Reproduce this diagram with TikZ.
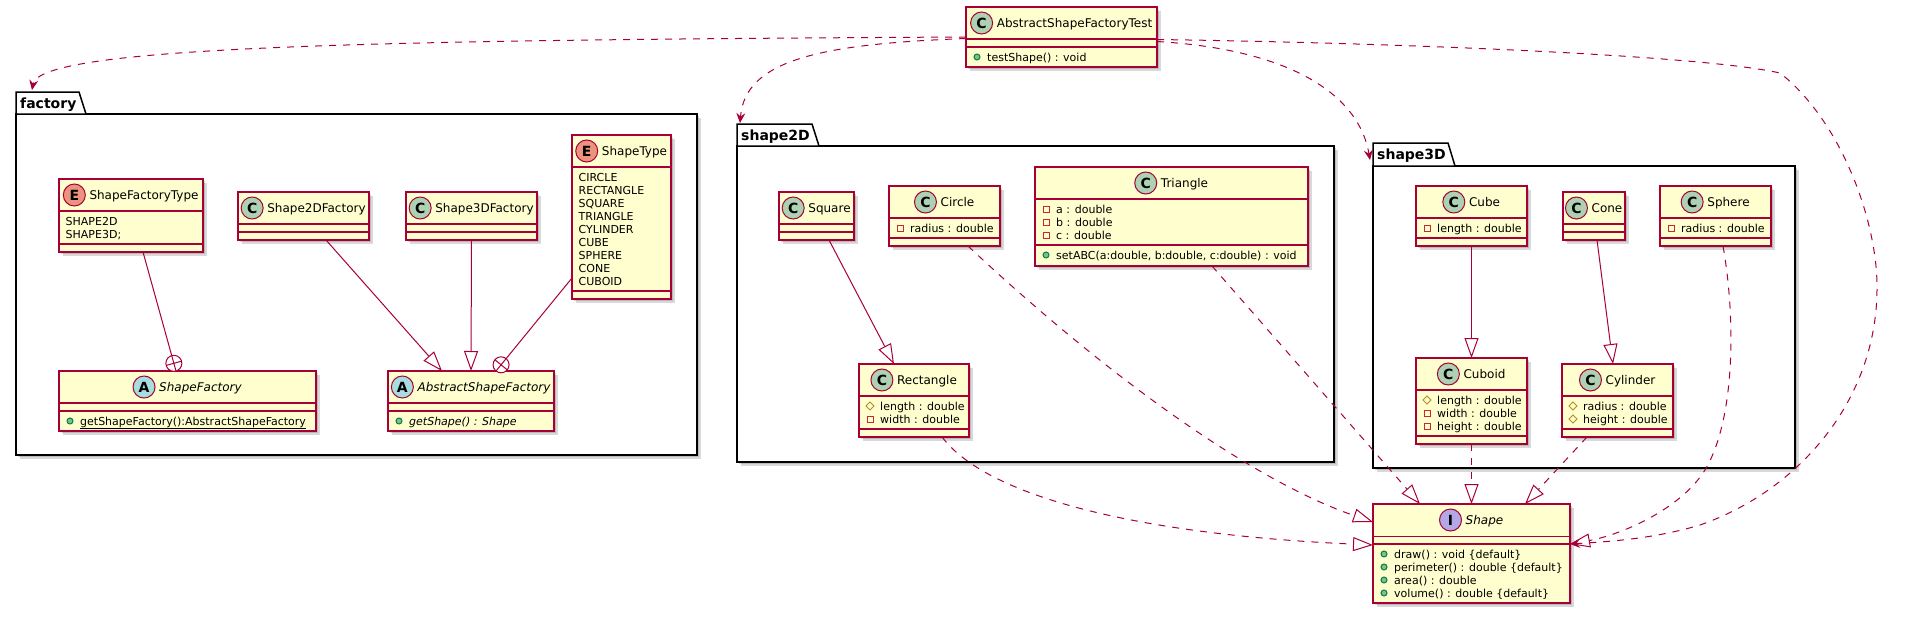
\documentclass[tikz,border=0pt]{standalone}
\usepackage{fontspec}
\setmainfont{DejaVu Sans}
\usetikzlibrary{arrows.meta,calc,shadows}
\definecolor{umlred}{HTML}{A80036}
\definecolor{umlfill}{HTML}{FEFECE}
\definecolor{ccirc}{HTML}{ADD1B2}
\definecolor{ecirc}{HTML}{EB937F}
\definecolor{acirc}{HTML}{A9DCDF}
\definecolor{icirc}{HTML}{B4A7E5}
\definecolor{privc}{HTML}{C82930}
\definecolor{pubf}{HTML}{84BE84}
\definecolor{pubd}{HTML}{038048}
\definecolor{protc}{HTML}{B38D22}
\tikzset{
  boxshadow/.style={drop shadow={shadow xshift=2pt,shadow yshift=-2pt,opacity=.15,fill=black},
                    drop shadow={shadow xshift=4pt,shadow yshift=-4pt,opacity=.15,fill=black}},
  clsbox/.style={rectangle, draw=umlred, fill=umlfill, line width=1.5pt, inner sep=0pt, outer sep=0pt, boxshadow},
  pkgbox/.style={rectangle, draw=black, fill=white, line width=1.5pt, inner sep=0pt, outer sep=0pt, boxshadow},
  pkgtab/.style={draw=black, fill=white, line width=1.5pt, line join=miter},
  pkglabel/.style={anchor=base west, inner sep=0pt, font=\fontsize{14}{16}\selectfont\bfseries},
  hname/.style={anchor=base, inner sep=0pt, font=\fontsize{12}{14}\selectfont},
  hcirc/.style={circle, draw=umlred, line width=1pt, minimum size=22pt, inner sep=0pt, font=\fontsize{14}{14}\selectfont\bfseries},
  mtext/.style={anchor=base west, inner sep=0pt, font=\fontsize{11}{13}\selectfont},
  sepline/.style={draw=umlred, line width=1.5pt},
  conn/.style={draw=umlred, line width=1pt},
  dep/.style={conn, dash pattern=on 7pt off 7pt, -{Stealth[length=10pt,width=9pt,inset=3.5pt]}},
  real/.style={conn, dash pattern=on 7pt off 7pt, -{Triangle[length=20pt,width=14pt,fill=white]}},
  gen/.style={conn, -{Triangle[length=20pt,width=14pt,fill=white]}},
  privicon/.style={draw=privc, line width=1pt},
  pubicon/.style={draw=pubd, fill=pubf, line width=1pt},
  proticon/.style={draw=protc, line width=1pt},
}
\newcommand\cls[5]{\node[clsbox, minimum width={#4-#2}, minimum height={#5-#3}] (#1) at ({(#2+#4)/2},{(#3+#5)/2}) {};}
\newcommand\hdr[4]{%
  \node[hname] (#1-t) at ($(#1.north)+(13,20.5)$) {#4};
  \node[hcirc, fill=#3] (#1-c) at ($(#1-t.base west)+(-15,-4.5)$) {#2};}
\newcommand\sepl[2]{\draw[sepline] ($(#1.north west)+(0,#2)$) -- ($(#1.north east)+(0,#2)$);}
\newcommand\mpriv[3]{\draw[privicon] ($(#1.north west)+(8,#2-3)$) rectangle ++(6,6);
  \node[mtext] (#1-m#2) at ($(#1.north west)+(21,#2+4)$) {#3};}
\newcommand\mpub[3]{\draw[pubicon] ($(#1.north west)+(11,#2)$) circle[radius=3pt];
  \node[mtext] (#1-m#2) at ($(#1.north west)+(21,#2+4)$) {#3};}
\newcommand\mprot[3]{\draw[proticon] ($(#1.north west)+(11,#2)$) ++(0,-4) -- ++(4,4) -- ++(-4,4) -- ++(-4,-4) -- cycle;
  \node[mtext] (#1-m#2) at ($(#1.north west)+(21,#2+4)$) {#3};}
\newcommand\menum[3]{\node[mtext] (#1-m#2) at ($(#1.north west)+(6.5,#2+4)$) {#3};}
\newcommand\nestplus[2]{%
  \coordinate (#2-c) at ($(#2)!8pt!(#1)$);
  \draw[conn, fill=white] (#2-c) circle[radius=8pt];
  \draw[conn] ($(#2-c)!8pt!(#2)$) -- ($(#2-c)!8pt!(#1)$);
  \draw[conn] ($(#2-c)!8pt!90:(#2)$) -- ($(#2-c)!8pt!-90:(#2)$);}
\begin{document}
\begin{tikzpicture}[x=1pt,y=-1pt]
\useasboundingbox (0,0) rectangle (1917,616);
% ---------- packages ----------
\node[pkgbox, minimum width=681, minimum height=341] (factory) at (356.5,284.5) {};
\draw[pkgtab] (16,114) -- (16,92) -- (79,92) -- (86,114) -- cycle;
\node[pkglabel] (factory-l) at (20,108) {factory};
\coordinate (factory-in) at ($(factory.north west)+(16,-24)$);

\node[pkgbox, minimum width=597, minimum height=316] (s2d) at (1035.5,304) {};
\draw[pkgtab] (737,146) -- (737,124) -- (812,124) -- (819,146) -- cycle;
\node[pkglabel] (s2d-l) at (741,140) {shape2D};
\coordinate (s2d-in) at ($(s2d.north west)+(3,-23)$);

\node[pkgbox, minimum width=422, minimum height=302] (s3d) at (1584,317) {};
\draw[pkgtab] (1373,166) -- (1373,143) -- (1448,143) -- (1455,166) -- cycle;
\node[pkglabel] (s3d-l) at (1377,159) {shape3D};
\coordinate (s3d-in) at ($(s3d.north west)+(-3,-6)$);

% ---------- classes ----------
\cls{test}{966}{7}{1157}{67}
\hdr{test}{C}{ccirc}{AbstractShapeFactoryTest}
\sepl{test}{32}\sepl{test}{40}
\mpub{test}{50}{testShape() : void}

\cls{sft}{59}{179}{203}{252}
\hdr{sft}{E}{ecirc}{ShapeFactoryType}
\sepl{sft}{32}
\menum{sft}{42}{SHAPE2D}\menum{sft}{55}{SHAPE3D;}
\sepl{sft}{65}

\cls{s2f}{238}{192}{369}{240}
\hdr{s2f}{C}{ccirc}{Shape2DFactory}
\sepl{s2f}{32}\sepl{s2f}{40}

\cls{s3f}{406}{192}{537}{240}
\hdr{s3f}{C}{ccirc}{Shape3DFactory}
\sepl{s3f}{32}\sepl{s3f}{40}

\cls{st}{572}{135}{671}{299}
\hdr{st}{E}{ecirc}{ShapeType}
\sepl{st}{32}
\menum{st}{42}{CIRCLE}\menum{st}{55}{RECTANGLE}\menum{st}{68}{SQUARE}
\menum{st}{81}{TRIANGLE}\menum{st}{94}{CYLINDER}\menum{st}{107}{CUBE}
\menum{st}{120}{SPHERE}\menum{st}{133}{CONE}\menum{st}{146}{CUBOID}
\sepl{st}{156}

\cls{sf}{59}{371}{316}{431}
\hdr{sf}{A}{acirc}{\itshape ShapeFactory}
\sepl{sf}{32}\sepl{sf}{40}
\mpub{sf}{50}{\underline{getShapeFactory():AbstractShapeFactory}}

\cls{asf}{388}{371}{554}{431}
\hdr{asf}{A}{acirc}{\itshape AbstractShapeFactory}
\sepl{asf}{32}\sepl{asf}{40}
\mpub{asf}{50}{\itshape getShape() : Shape}

\cls{square}{779}{192}{854}{240}
\hdr{square}{C}{ccirc}{Square}
\sepl{square}{32}\sepl{square}{40}

\cls{circle}{889}{186}{1000}{246}
\hdr{circle}{C}{ccirc}{Circle}
\sepl{circle}{32}
\mpriv{circle}{42}{radius : double}
\sepl{circle}{52}

\cls{triangle}{1035}{167}{1308}{266}
\hdr{triangle}{C}{ccirc}{Triangle}
\sepl{triangle}{32}
\mpriv{triangle}{42}{a : double}\mpriv{triangle}{55}{b : double}\mpriv{triangle}{68}{c : double}
\sepl{triangle}{78}
\mpub{triangle}{88}{setABC(a:double, b:double, c:double) : void}

\cls{rect}{859}{364}{969}{437}
\hdr{rect}{C}{ccirc}{Rectangle}
\sepl{rect}{32}
\mprot{rect}{42}{length : double}\mpriv{rect}{55}{width : double}
\sepl{rect}{65}

\cls{cube}{1416}{186}{1527}{246}
\hdr{cube}{C}{ccirc}{Cube}
\sepl{cube}{32}
\mpriv{cube}{42}{length : double}
\sepl{cube}{52}

\cls{cone}{1563}{192}{1625}{240}
\hdr{cone}{C}{ccirc}{Cone}
\sepl{cone}{32}\sepl{cone}{40}

\cls{sphere}{1660}{186}{1771}{246}
\hdr{sphere}{C}{ccirc}{Sphere}
\sepl{sphere}{32}
\mpriv{sphere}{42}{radius : double}
\sepl{sphere}{52}

\cls{cuboid}{1416}{358}{1527}{444}
\hdr{cuboid}{C}{ccirc}{Cuboid}
\sepl{cuboid}{32}
\mprot{cuboid}{42}{length : double}\mpriv{cuboid}{55}{width : double}\mpriv{cuboid}{68}{height : double}
\sepl{cuboid}{78}

\cls{cyl}{1562}{364}{1673}{437}
\hdr{cyl}{C}{ccirc}{Cylinder}
\sepl{cyl}{32}
\mprot{cyl}{42}{radius : double}\mprot{cyl}{55}{height : double}
\sepl{cyl}{65}

\cls{shape}{1373}{504}{1570}{603}
\hdr{shape}{I}{icirc}{\itshape Shape}
\sepl{shape}{32.5}\sepl{shape}{40}
\mpub{shape}{50}{draw() : void \{default\}}
\mpub{shape}{63}{perimeter() : double \{default\}}
\mpub{shape}{76}{area() : double}
\mpub{shape}{89}{volume() : double \{default\}}

% ---------- connectors: factory ----------
\draw[conn] ($(sft.south)+(12,0)$) coordinate (n1s) -- ($(sf.north)+(-11.5,0)$) coordinate (n1e);
\nestplus{n1s}{n1e}
\draw[gen] ($(s2f.south)+(22.5,0)$) -- ($(asf.north)+(-29,0)$);
\draw[gen] (s3f.south) -- (asf.north);
\draw[conn] ($(st.south west)+(0,-21)$) coordinate (n2s) -- ($(asf.north)+(25,0)$) coordinate (n2e);
\nestplus{n2s}{n2e}

% ---------- connectors: shapes ----------
\draw[gen] ($(square.south)+(12.5,0)$) -- ($(rect.north)+(-20,0)$);
\draw[gen] (cube.south) -- (cuboid.north);
\draw[gen] ($(cone.south)+(3,0)$) -- ($(cyl.north)+(-4.5,0)$);

\draw[real] ($(circle.south)+(23.5,0)$) .. controls (1100,370) and (1250,480) .. ($(shape.north west)+(0,18)$);
\draw[real] ($(rect.south)+(28,0)$) .. controls (990,500) and (1150,535) .. ($(shape.north west)+(0,41)$);
\draw[real] ($(triangle.south)+(40.5,0)$) -- ($(shape.north west)+(47,0)$);
\draw[real] (cuboid.south) -- (cuboid.south |- shape.north);
\draw[real] ($(cyl.south)+(-30.5,0)$) -- ($(shape.north)+(53.5,0)$);
\draw[real] ($(sphere.south)+(7.5,0)$) .. controls (1736,320) and (1735,420) .. (1705,470)
   .. controls (1680,510) and (1620,535) .. ($(shape.north east)+(0,40)$);

% ---------- dependencies from the test ----------
\draw[dep] (test.west) .. controls (400,40) and (40,45) .. (factory-in);
\draw[dep] ($(test.west)+(0,1.5)$) .. controls (820,44) and (745,60) .. (s2d-in);
\draw[dep] ($(test.east)+(0,4.5)$) .. controls (1300,50) and (1360,100) .. (s3d-in);
\draw[dep] ($(test.east)+(0,2.5)$) .. controls (1400,43) and (1700,55) .. (1780,73)
   .. controls (1840,120) and (1878,220) .. (1877,290)
   .. controls (1876,400) and (1800,490) .. (1700,525)
   .. controls (1650,540) and (1600,542) .. ($(shape.north east)+(0,40)$);
\end{tikzpicture}
\end{document}
